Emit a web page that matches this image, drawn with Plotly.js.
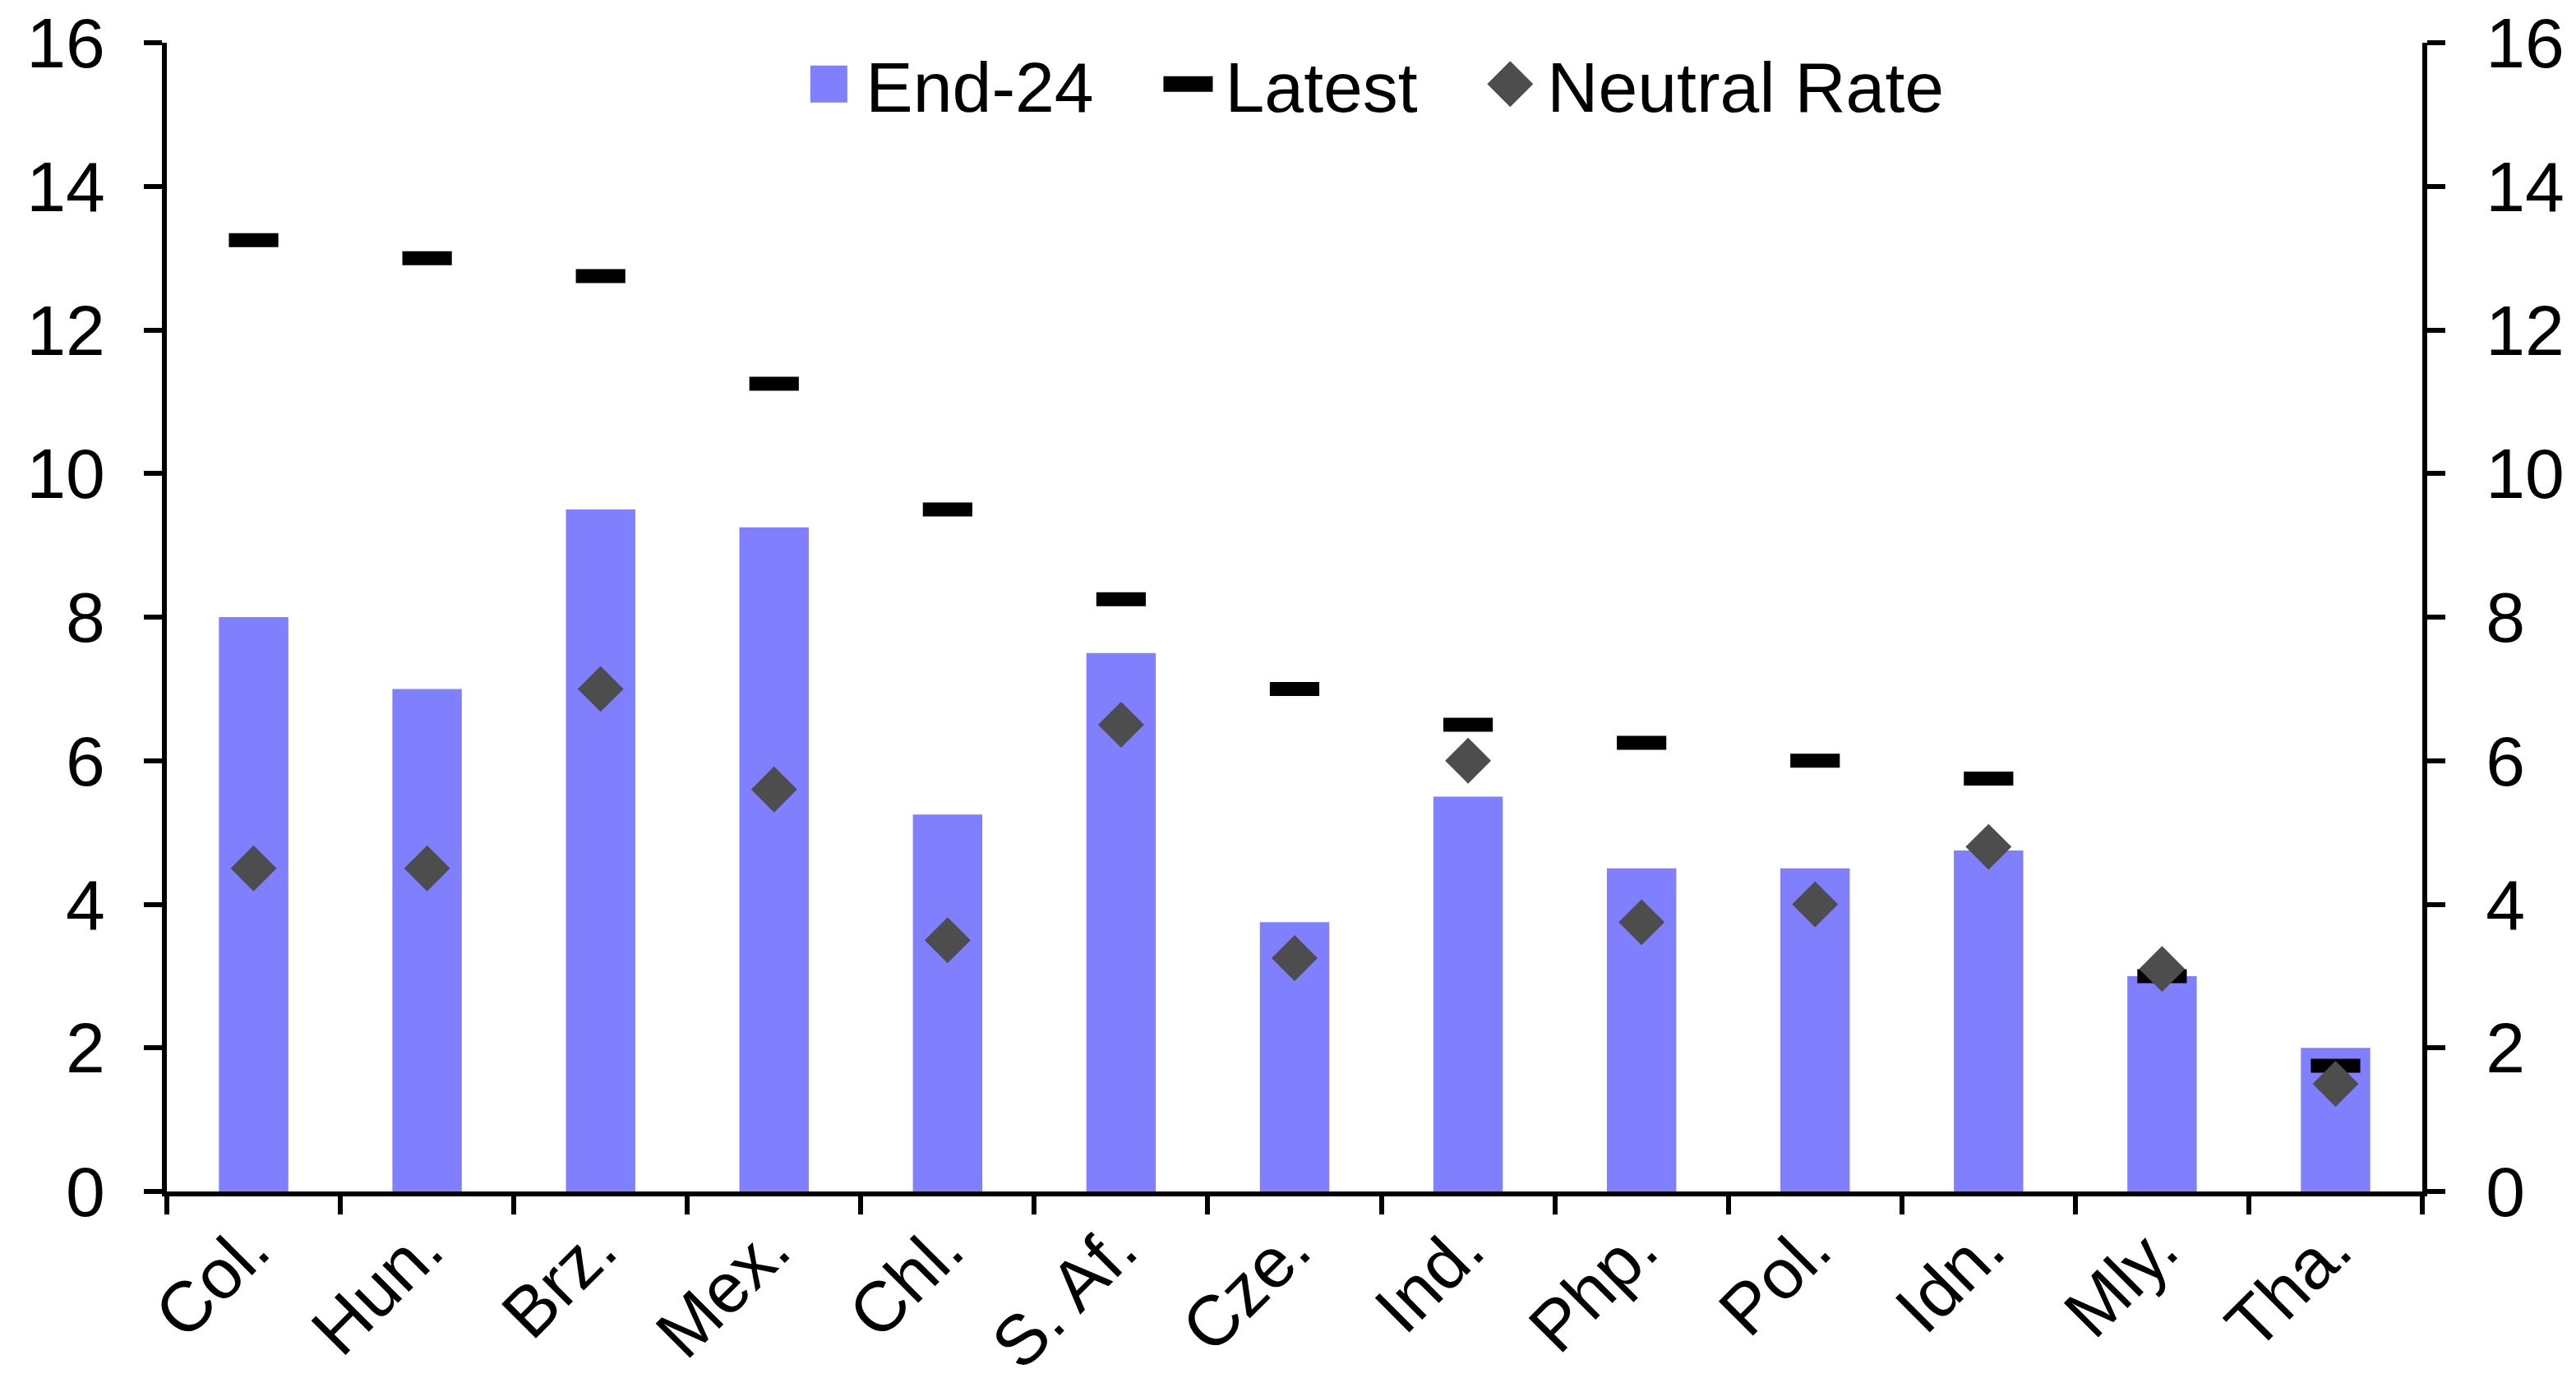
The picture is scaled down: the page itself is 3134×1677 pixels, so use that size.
<!DOCTYPE html>
<html>
<head>
<meta charset="utf-8">
<script src="https://cdn.plot.ly/plotly-3.0.1.min.js"></script>
<style>
  html, body { margin: 0; padding: 0; background: #ffffff; }
  #chart { width: 3134px; height: 1677px; }
  /* enlarge the legend keys to the size of the reference's keys */
  #chart .legendpoints path[d^="M6,6H-6V-6H6Z"] {
    transform: translate(45px, 0px) scale(3.75);
  }
  #chart .legendpoints path.scatterpts[d^="M11.2,0H"] {
    transform: translate(45px, 0px) scale(2.68, 3.8);
  }
  #chart .legendpoints path.scatterpts[d^="M10.4,0L"] {
    transform: translate(45px, 0px) scale(2.69);
  }
</style>
</head>
<body>
<div id="chart"></div>
<script>
// ---- Data ----
const categories = ['Col.', 'Hun.', 'Brz.', 'Mex.', 'Chl.', 'S. Af.', 'Cze.', 'Ind.', 'Php.', 'Pol.', 'Idn.', 'Mly.', 'Tha.'];
const end24      = [8.0, 7.0, 9.5, 9.25, 5.25, 7.5, 3.75, 5.5, 4.5, 4.5, 4.75, 3.0, 2.0];
const latest     = [13.25, 13.0, 12.75, 11.25, 9.5, 8.25, 7.0, 6.5, 6.25, 6.0, 5.75, 3.0, 1.75];
const neutral    = [4.5, 4.5, 7.0, 5.6, 3.5, 6.5, 3.25, 6.0, 3.75, 4.0, 4.8, 3.1, 1.5];
const yTickVals  = [0, 2, 4, 6, 8, 10, 12, 14, 16];

const FONT = 'Liberation Sans, Arial, Helvetica, sans-serif';

const traces = [
  {
    type: 'bar', name: 'End-24', x: categories, y: end24, legend: 'legend',
    marker: { color: '#8080ff', line: { width: 0 } },
    hoverinfo: 'skip'
  },
  {
    type: 'scatter', mode: 'markers', name: 'Latest', x: categories, y: latest, legend: 'legend2',
    marker: { symbol: 'line-ew', size: 43, color: '#000000', line: { color: '#000000', width: 17 } },
    hoverinfo: 'skip'
  },
  {
    type: 'scatter', mode: 'markers', name: 'Neutral Rate', x: categories, y: neutral, legend: 'legend3',
    marker: { symbol: 'diamond', size: 43, color: '#4d4d4d', line: { width: 0 } },
    hoverinfo: 'skip'
  },
  {
    // invisible companion so the right-hand axis is drawn
    type: 'scatter', mode: 'markers', x: categories, y: end24, yaxis: 'y2',
    marker: { opacity: 0, size: 1 }, showlegend: false, hoverinfo: 'skip'
  }
];

const yCommon = {
  range: [0, 16], tickvals: yTickVals, ticktext: yTickVals.map(String),
  showline: true, linecolor: '#000000', linewidth: 6,
  ticks: 'outside', ticklen: 22, tickwidth: 6, tickcolor: '#000000',
  showgrid: false, zeroline: false, fixedrange: true,
  tickfont: { family: FONT, size: 86, color: '#000000' }
};

function legendAt(xPaper) {
  return {
    orientation: 'h', x: xPaper, y: 0.964, xanchor: 'left', yanchor: 'middle',
    bgcolor: 'rgba(0,0,0,0)', borderwidth: 0, itemwidth: 80,
    font: { family: FONT, size: 86, color: '#000000' }
  };
}

const layout = {
  width: 3134, height: 1677,
  margin: { l: 203, r: 187, t: 52, b: 227, pad: 0 },
  paper_bgcolor: '#ffffff', plot_bgcolor: '#ffffff',
  font: { family: FONT, size: 86, color: '#000000' },
  bargap: 0.6,
  showlegend: true,
  legend: legendAt(0.2771),
  legend2: legendAt(0.4364),
  legend3: legendAt(0.5792),
  xaxis: {
    type: 'category', range: [-0.5, 12.5],
    showline: true, linecolor: '#000000', linewidth: 6,
    ticks: 'outside', tickson: 'boundaries', ticklen: 22, tickwidth: 6, tickcolor: '#000000',
    tickangle: -45, ticklabelstandoff: -21, ticklabelshift: -6,
    showgrid: false, zeroline: false, fixedrange: true,
    tickfont: { family: FONT, size: 86, color: '#000000' }
  },
  yaxis: Object.assign({ side: 'left', ticklabelstandoff: 30 }, yCommon),
  yaxis2: Object.assign({ side: 'right', overlaying: 'y', ticklabelstandoff: 32 }, yCommon)
};

Plotly.newPlot('chart', traces, layout, { staticPlot: true, displayModeBar: false });
</script>
</body>
</html>
